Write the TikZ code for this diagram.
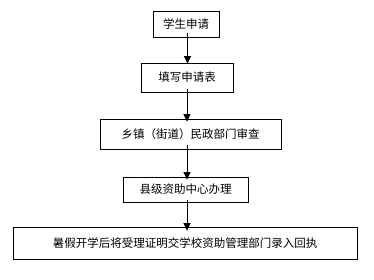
\documentclass[tikz,border=0pt]{standalone}
\usepackage{fontspec}
\newfontfamily\cjk{Noto Sans CJK SC}
\usetikzlibrary{arrows.meta}
\begin{document}
\begin{tikzpicture}[x=1pt,y=-1pt,
  stepbox/.style={draw,line width=0.8pt,inner sep=0pt,font=\cjk\fontsize{11.5}{13}\selectfont},
  flow/.style={draw,line width=0.8pt,-{Triangle[length=7.5pt,width=7pt]}}]
\useasboundingbox (0,0) rectangle (374,279);
\node[stepbox,minimum width=66pt,minimum height=26pt] (a) at (186,24) {学生申请};
\node[stepbox,minimum width=92pt,minimum height=29pt] (b) at (187,77.5) {填写申请表};
\node[stepbox,minimum width=181pt,minimum height=30pt] (c) at (190.5,134) {乡镇（街道）民政部门审查};
\node[stepbox,minimum width=125pt,minimum height=25pt] (d) at (185.5,189.5) {县级资助中心办理};
\node[stepbox,minimum width=344pt,minimum height=32pt] (e) at (185,243) {暑假开学后将受理证明交学校资助管理部门录入回执};
\draw[flow] ([yshift=4pt]a.south -| 187.5,0) -- ([yshift=-1pt]b.north -| 187.5,0);
\draw[flow] ([yshift=3pt]b.south -| 187,0) -- ([yshift=-3pt]c.north -| 187,0);
\draw[flow] ([yshift=4pt]c.south -| 187,0) -- ([yshift=-3pt]d.north -| 187,0);
\draw[flow] ([yshift=2pt]d.south -| 187,0) -- ([yshift=-4pt]e.north -| 187,0);
\end{tikzpicture}
\end{document}
